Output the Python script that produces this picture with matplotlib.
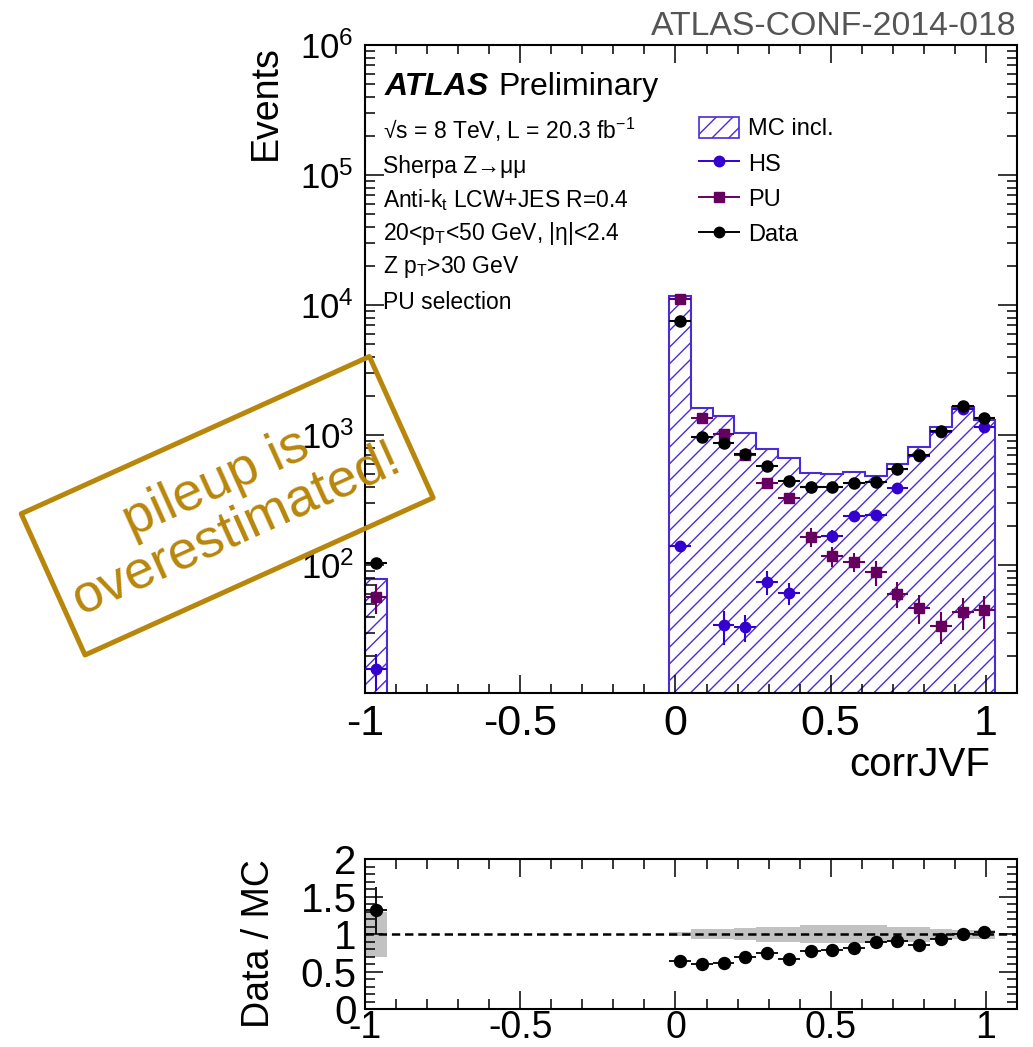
import numpy as np
import matplotlib.pyplot as plt
from matplotlib.patches import Patch, Rectangle
from matplotlib.lines import Line2D
from matplotlib.ticker import MultipleLocator, LogLocator, NullFormatter, FuncFormatter

plt.rcParams['font.family'] = ['Liberation Sans', 'DejaVu Sans']
plt.rcParams['mathtext.fontset'] = 'custom'
plt.rcParams['mathtext.rm'] = 'Liberation Sans'
plt.rcParams['mathtext.it'] = 'Liberation Sans:italic'
plt.rcParams['mathtext.bf'] = 'Liberation Sans:bold'
plt.rcParams['mathtext.default'] = 'regular'
plt.rcParams['hatch.linewidth'] = 1.0
plt.rcParams['lines.scale_dashes'] = False

# corrJVF bins (width 0.07): the -1 bin (no tracks) and the filled [-0.02, 1.03] range
bin_lo = [-1.0, -0.02, 0.05, 0.12, 0.19, 0.26, 0.33, 0.40, 0.47,
          0.54, 0.61, 0.68, 0.75, 0.82, 0.89, 0.96]
bin_w = 0.07

mc_incl = [79, 11800, 1620, 1400, 1030, 780, 669, 512, 500,
           522, 486, 599, 813, 1150, 1652, 1304]
data = [104, 7570, 970, 863, 714, 581, 448, 400, 396,
        425, 435, 547, 700, 1070, 1663, 1343]
hs = [15.8, 140, np.nan, 34.5, 33.5, 74.5, 61.6, 398, 168,
      238, 242, 389, 695, 1065, 1578, 1158]
hs_err = [5, 14, np.nan, 10, 8, 16, 12, 20, 20,
          20, 20, 25, 30, 40, 50, 45]
pu = [56.8, 11070, 1358, 1018, 702, 430, 326, 165, 117,
      106, 88.4, 60.5, 47, 34.1, 43.7, 45.1]
pu_err = [15, 100, 50, 40, 30, 20, 16, 28, 20,
          18, 19, 14, 12, 9.5, 12, 13]

# relative MC stat. uncertainty and data/MC errors for the ratio panel
mc_rel_err = [0.30, 0.03, 0.07, 0.07, 0.08, 0.10, 0.10, 0.12, 0.12,
              0.12, 0.12, 0.10, 0.10, 0.07, 0.06, 0.06]
ratio_err = [0.31, 0.01, 0.03, 0.03, 0.03, 0.04, 0.04, 0.05, 0.05,
             0.05, 0.05, 0.05, 0.04, 0.03, 0.03, 0.03]

info_lines = [u'\u221as = 8 TeV, L = 20.3 fb$^{-1}$',
              u'Sherpa Z\u2192\u03bc\u03bc',
              'Anti-k$_{t}$ LCW+JES R=0.4',
              u'20<p$_{T}$<50 GeV, |\u03b7|<2.4',
              'Z p$_{T}$>30 GeV',
              'PU selection']

c_mc = '#4b2bd6'
c_hs = '#3300d0'
c_pu = '#660060'
c_stamp = '#b8860b'

bin_lo = np.array(bin_lo)
centers = bin_lo + bin_w / 2
mc_incl = np.array(mc_incl, dtype=float)
data = np.array(data, dtype=float)
data_err = np.sqrt(data)
ratio = data / mc_incl

fig = plt.figure(figsize=(10.33, 10.47), dpi=100)
W, H = 1033.0, 1047.0
ax = fig.add_axes([365 / W, 1 - 692.5 / H, 652 / W, 647.5 / H])
rax = fig.add_axes([365 / W, 1 - 1009.3 / H, 652 / W, 150.3 / H])

# MC inclusive histogram, hatched, drawn in two pieces
for sl, edges in [(slice(0, 1), [bin_lo[0], bin_lo[0] + bin_w]),
                  (slice(1, None), list(bin_lo[1:]) + [bin_lo[-1] + bin_w])]:
    ax.stairs(mc_incl[sl], edges, baseline=1, fill=True, hatch='//',
              facecolor='none', edgecolor=c_mc, linewidth=1.5, zorder=1)

ax.errorbar(centers, hs, yerr=hs_err, xerr=bin_w / 2, fmt='o', ms=7.5,
            color=c_hs, elinewidth=1.5, capsize=0, zorder=3)
ax.errorbar(centers, pu, yerr=pu_err, xerr=bin_w / 2, fmt='s', ms=7.5,
            color=c_pu, elinewidth=1.5, capsize=0, zorder=4)
ax.errorbar(centers, data, yerr=data_err, xerr=bin_w / 2, fmt='o', ms=8,
            color='black', elinewidth=1.5, capsize=0, zorder=5)

ax.set_yscale('log')
ax.set_ylim(10.5, 1e6)
ax.set_xlim(-1.0, 1.1)

xt = [-1, -0.5, 0, 0.5, 1]
xt_labels = ['-1', '-0.5', '0', '0.5', '1']

for a in (ax, rax):
    a.set_xticks(xt)
    a.xaxis.set_minor_locator(MultipleLocator(0.1))
    for s in a.spines.values():
        s.set_linewidth(1.5)
    a.tick_params(which='both', direction='in', top=True, right=True, width=1.1)

ax.set_xticklabels(xt_labels, fontsize=31)
ax.yaxis.set_major_locator(LogLocator(base=10))
ax.yaxis.set_minor_locator(LogLocator(base=10, subs=np.arange(2, 10)))
ax.yaxis.set_minor_formatter(NullFormatter())
ax.yaxis.set_major_formatter(FuncFormatter(lambda v, p: r'$10^{%d}$' % round(np.log10(v))))
ax.tick_params(axis='y', which='major', length=14, labelsize=25, pad=8)
ax.tick_params(axis='y', which='minor', length=7)
ax.tick_params(axis='x', which='major', length=13, pad=8)
ax.tick_params(axis='x', which='minor', length=6.5)

ax.set_ylabel('Events', fontsize=27, loc='top')
ax.yaxis.set_label_coords(-0.125, 1.0)
ax.set_xlabel('corrJVF', fontsize=29, loc='right')
ax.xaxis.set_label_coords(0.9586, -0.082)
ax.xaxis.label.set_va('top')

# ATLAS label and selection text
ax.text(0.0307, 0.9228, 'ATLAS', transform=ax.transAxes, fontsize=23,
        fontweight='bold', fontstyle='italic', va='baseline')
ax.text(0.204, 0.9228, 'Preliminary', transform=ax.transAxes, fontsize=23,
        va='baseline')
info_y = [0.8548, 0.8023, 0.7498, 0.6988, 0.6479, 0.5923]
for txt, yy in zip(info_lines, info_y):
    ax.text(0.0276, yy, txt, transform=ax.transAxes, fontsize=16.5, va='baseline')

handles = [Patch(facecolor='none', edgecolor=c_mc, hatch='//', linewidth=1.2),
           Line2D([], [], color=c_hs, marker='o', ms=7.5, lw=1.4),
           Line2D([], [], color=c_pu, marker='s', ms=7.5, lw=1.4),
           Line2D([], [], color='black', marker='o', ms=7.5, lw=1.4)]
ax.legend(handles, ['MC incl.', 'HS', 'PU', 'Data'], loc='upper left',
          bbox_to_anchor=(0.5123, 0.8888), frameon=False, fontsize=17,
          borderpad=0, borderaxespad=0, handlelength=1.7, handleheight=0.97,
          handletextpad=0.38, labelspacing=0.5)

# ratio panel
rax.bar(centers, 2 * np.array(mc_rel_err), bottom=1 - np.array(mc_rel_err),
        width=bin_w, color='#c2c2c2', edgecolor='none', zorder=1)
rax.axhline(1, color='black', lw=1.8, ls=(0, (6, 3.5)), zorder=2)
rax.errorbar(centers, ratio, yerr=ratio_err, xerr=bin_w / 2, fmt='o', ms=8.6,
             color='black', elinewidth=1.3, capsize=0, zorder=3)
rax.set_ylim(0, 2)
rax.set_xlim(-1.0, 1.1)
rax.set_yticks([0, 0.5, 1, 1.5, 2])
rax.set_yticklabels(['0', '0.5', '1', '1.5', '2'], fontsize=29)
rax.yaxis.set_minor_locator(MultipleLocator(0.1))
rax.set_xticklabels(xt_labels, fontsize=27)
rax.tick_params(axis='both', which='major', length=13)
rax.tick_params(axis='both', which='minor', length=7)
rax.tick_params(axis='x', which='major', pad=0.5)
rax.tick_params(axis='y', which='major', pad=6)
rax.set_ylabel('Data / MC', fontsize=27, loc='top')
rax.yaxis.set_label_coords(-0.135, 1.0)

fig.text(1017 / W, 1 - 35 / H, 'ATLAS-CONF-2014-018', ha='right', va='baseline',
         fontsize=24.3, color='#555555')

# stamp
stamp = Rectangle((0.85, 3.92), 3.82, 1.55, angle=24.3, transform=fig.dpi_scale_trans,
                  fill=False, edgecolor=c_stamp, linewidth=3.6, joinstyle='round',
                  capstyle='round', zorder=10)
fig.add_artist(stamp)
fig.text(2.26, 5.41, 'pileup is\noverestimated!', transform=fig.dpi_scale_trans,
         rotation=24.3, rotation_mode='anchor', ha='center', va='center',
         multialignment='center', fontsize=39, color=c_stamp, linespacing=1.0,
         zorder=10)

fig.savefig('out.png', dpi=100)
